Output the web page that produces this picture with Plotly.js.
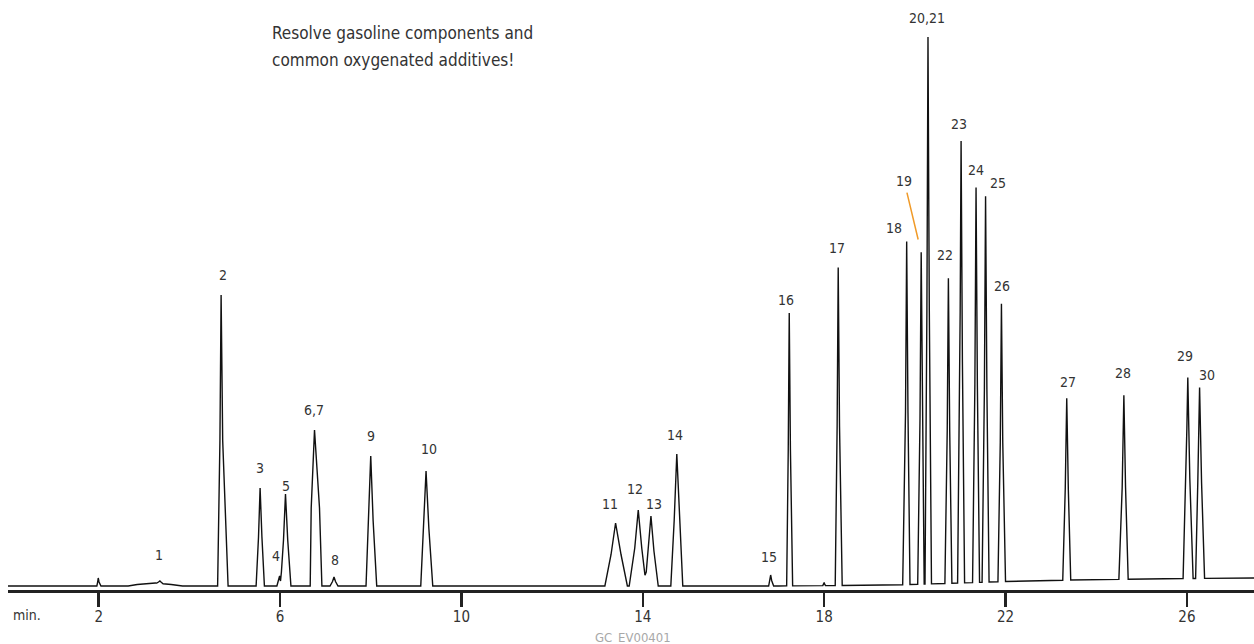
<!DOCTYPE html>
<html>
<head>
<meta charset="utf-8">
<script src="https://cdn.plot.ly/plotly-3.0.1.min.js"></script>
<style>
  html, body { margin: 0; padding: 0; background: #fff; }
  #chart { width: 1254px; height: 644px; }
</style>
</head>
<body>
<div id="chart"></div>
<script>
// ---------------- DATA ----------------
// retention time (min) of each peak apex
const peakTimes   = [1.99, 3.25, 3.35, 4.70, 5.56, 5.99, 6.12, 6.76, 7.19, 8.00, 9.22,
                     13.40, 13.90, 14.18, 14.75, 16.82, 17.23, 18.00, 18.31, 19.82, 20.14,
                     20.29, 20.74, 21.02, 21.35, 21.56, 21.91, 23.35, 24.61, 26.02, 26.28];
// peak height above the local baseline (detector response, arbitrary units)
const peakHeights = [8, 3, 2.5, 291, 98, 10, 92, 156, 9, 130, 115,
                     63, 76, 70, 132, 11, 273, 3, 318, 343, 332,
                     547, 305, 442, 395, 386, 278, 182, 184, 201, 191];
// peak width (min): left base, left half-height, right half-height, right base
const baseLeft    = [0.03, 0.60, 0.07, 0.077, 0.088, 0.06, 0.11, 0.095, 0.088, 0.104, 0.117,
                     0.236, 0.20, 0.132, 0.132, 0.044, 0.057, 0.03, 0.066, 0.088, 0.077,
                     0.066, 0.077, 0.077, 0.077, 0.077, 0.077, 0.088, 0.11, 0.104, 0.088];
const halfLeft    = [0.012, 0.40, 0.03, 0.026, 0.035, 0.025, 0.044, 0.073, 0.033, 0.044, 0.053,
                     0.10, 0.077, 0.062, 0.057, 0.018, 0.022, 0.012, 0.024, 0.026, 0.026,
                     0.024, 0.026, 0.026, 0.026, 0.026, 0.026, 0.033, 0.037, 0.04, 0.04];
const halfRight   = [0.018, 0.35, 0.03, 0.035, 0.04, 0.02, 0.049, 0.11, 0.033, 0.053, 0.062,
                     0.12, 0.077, 0.066, 0.062, 0.022, 0.026, 0.012, 0.029, 0.029, 0.029,
                     0.029, 0.029, 0.029, 0.029, 0.029, 0.029, 0.035, 0.037, 0.044, 0.044];
const baseRight   = [0.06, 0.60, 0.07, 0.154, 0.095, 0.04, 0.12, 0.163, 0.088, 0.132, 0.148,
                     0.26, 0.176, 0.161, 0.132, 0.066, 0.075, 0.03, 0.088, 0.073, 0.066,
                     0.077, 0.077, 0.077, 0.077, 0.077, 0.088, 0.088, 0.095, 0.117, 0.11];
// peak identification numbers ('' = unlabelled)
const peakLabels  = ['', '', '1', '2', '3', '4', '5', '6,7', '8', '9', '10',
                     '11', '12', '13', '14', '15', '16', '', '17', '18', '19',
                     '20,21', '22', '23', '24', '25', '26', '27', '28', '29', '30'];
// baseline drift
const baseTimes   = [0, 17, 19.5, 21, 22, 23.5, 26, 27.48];
const baseLevels  = [0, 0, 1, 3, 4.5, 6, 7.5, 8];
// axis
const tickValues  = [2, 6, 10, 14, 18, 22, 26];
const tickLabels  = ['2', '6', '10', '14', '18', '22', '26'];
const timeRange   = [0, 27.48];

const titleLines  = ['Resolve gasoline components and', 'common oxygenated additives!'];
const axisUnit    = 'min.';
const figureCode  = 'GC_EV00401';

// ---------------- label placement (pixel offsets from apex) ----------------
const labelOffsets = {
  '1': [-1, 26], '2': [2, 20], '3': [0, 20], '4': [-4, 20], '5': [1, 8],
  '6,7': [-1, 20], '8': [1, 17], '9': [0, 20], '10': [3, 22], '11': [-6, 19],
  '12': [-3, 21], '13': [3, 12], '14': [-2, 19], '15': [-2, 18], '16': [-3, 13],
  '17': [-1, 19], '18': [-13, 14], '20,21': [-1, 19], '22': [-3, 23], '23': [-2, 17],
  '24': [0, 17], '25': [12, 13], '26': [1, 18], '27': [1, 16], '28': [-1, 22],
  '29': [-3, 21], '30': [7, 12]
};

// ---------------- build signal from peak table ----------------
function baselineAt(t) {
  for (let i = 0; i < baseTimes.length - 1; i++) {
    if (t >= baseTimes[i] && t <= baseTimes[i + 1]) {
      const f = (t - baseTimes[i]) / (baseTimes[i + 1] - baseTimes[i]);
      return baseLevels[i] + f * (baseLevels[i + 1] - baseLevels[i]);
    }
  }
  return baseLevels[baseLevels.length - 1];
}
function peakVertices(i) {
  const t = peakTimes[i], h = peakHeights[i];
  return [[t - baseLeft[i], 0], [t - halfLeft[i], h / 2], [t, h],
          [t + halfRight[i], h / 2], [t + baseRight[i], 0]];
}
function peakAt(i, t) {
  const v = peakVertices(i);
  if (t <= v[0][0] || t >= v[4][0]) return 0;
  for (let k = 0; k < 4; k++) {
    if (t >= v[k][0] && t <= v[k + 1][0]) {
      const f = (t - v[k][0]) / (v[k + 1][0] - v[k][0]);
      return v[k][1] + f * (v[k + 1][1] - v[k][1]);
    }
  }
  return 0;
}
function signalAt(t) {
  let s = baselineAt(t);
  for (let i = 0; i < peakTimes.length; i++) s += peakAt(i, t);
  return s;
}

let times = timeRange.concat(baseTimes);
for (let i = 0; i < peakTimes.length; i++) peakVertices(i).forEach(p => times.push(p[0]));
times = Array.from(new Set(times.map(t => +t.toFixed(4)))).sort((a, b) => a - b);
const signal = times.map(signalAt);

const FONT = '"DejaVu Sans Condensed", "Liberation Sans Narrow", "Roboto", sans-serif';
const LABEL_SIZE = 14;

const annotations = [];
peakLabels.forEach((lab, i) => {
  if (!lab) return;
  const t = peakTimes[i];
  const yA = signalAt(t);
  if (lab === '19') {
    annotations.push({
      x: t, y: yA, xref: 'x', yref: 'y', text: lab, showarrow: true,
      ax: -17, ay: -71, arrowhead: 0, arrowwidth: 1.5, arrowcolor: '#f09a28',
      standoff: 13, borderpad: 3,
      font: { family: FONT, size: LABEL_SIZE, color: '#333' }
    });
    return;
  }
  const off = labelOffsets[lab] || [0, 18];
  annotations.push({
    x: t, y: yA, xref: 'x', yref: 'y', text: lab, showarrow: false,
    xanchor: 'center', yanchor: 'middle', xshift: off[0], yshift: off[1],
    font: { family: FONT, size: LABEL_SIZE, color: '#333' }
  });
});
// title lines
annotations.push({ x: 0.2103, y: (590 - 33) / 590, xref: 'paper', yref: 'paper', text: titleLines[0],
  showarrow: false, xanchor: 'left', yanchor: 'middle', font: { family: FONT, size: 17, color: '#333' } });
annotations.push({ x: 0.2103, y: (590 - 60) / 590, xref: 'paper', yref: 'paper', text: titleLines[1],
  showarrow: false, xanchor: 'left', yanchor: 'middle', font: { family: FONT, size: 17, color: '#333' } });
// axis unit
annotations.push({ x: (27 - 8) / 1246, y: (590 - 615) / 590, xref: 'paper', yref: 'paper', text: axisUnit,
  showarrow: false, xanchor: 'center', yanchor: 'middle', font: { family: FONT, size: 14, color: '#333' } });
// figure code
annotations.push({ x: (633 - 8) / 1246, y: (590 - 637) / 590, xref: 'paper', yref: 'paper', text: figureCode,
  showarrow: false, xanchor: 'center', yanchor: 'middle', font: { family: FONT, size: 13, color: '#a8a8a8' } });

const trace = {
  x: times, y: signal, type: 'scatter', mode: 'lines',
  line: { color: '#111111', width: 1.4 }, hoverinfo: 'skip', showlegend: false
};

const layout = {
  width: 1254, height: 644,
  margin: { l: 8, r: 0, t: 0, b: 54, pad: 0 },
  paper_bgcolor: '#ffffff', plot_bgcolor: '#ffffff',
  xaxis: {
    range: timeRange, tickvals: tickValues, ticktext: tickLabels,
    showline: true, linecolor: '#222', linewidth: 2.5, mirror: false,
    ticks: 'outside', ticklen: 14, tickwidth: 2.5, tickcolor: '#222',
    ticklabelstandoff: -3,
    showgrid: false, zeroline: false,
    tickfont: { family: FONT, size: 15, color: '#333' }
  },
  yaxis: {
    range: [-4, 586], visible: false, showgrid: false, zeroline: false, fixedrange: true
  },
  annotations: annotations,
  showlegend: false
};

Plotly.newPlot('chart', [trace], layout, { displayModeBar: false, staticPlot: true });
</script>
</body>
</html>
